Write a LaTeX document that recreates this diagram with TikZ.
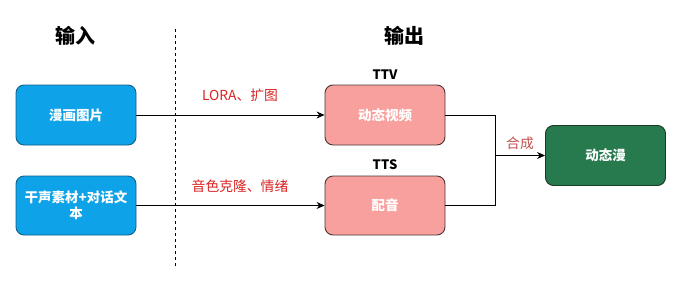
\documentclass[tikz,border=0pt]{standalone}
\usepackage{fontspec}
\setmainfont{Noto Sans CJK SC}
\usetikzlibrary{arrows.meta}
\definecolor{bluefill}{HTML}{0EA2E8}
\definecolor{bluedraw}{HTML}{10618A}
\definecolor{pinkfill}{HTML}{F8A09D}
\definecolor{pinkdraw}{HTML}{4A3534}
\definecolor{greenfill}{HTML}{267A4D}
\definecolor{greendraw}{HTML}{1A3A28}
\definecolor{lblred}{HTML}{D92323}
\definecolor{mergered}{HTML}{C0504D}
\tikzset{
  box/.style={rounded corners=8pt, minimum width=120pt, minimum height=60pt, line width=0.9pt,
    font=\fontsize{13.5}{16.5}\selectfont\bfseries, text=white, align=center, inner sep=2pt},
  bluebox/.style={box, fill=bluefill, draw=bluedraw},
  pinkbox/.style={box, fill=pinkfill, draw=pinkdraw},
  greenbox/.style={box, fill=greenfill, draw=greendraw},
  title/.style={font=\fontsize{20}{23}\selectfont\bfseries},
  tag/.style={font=\fontsize{13}{15}\selectfont\bfseries},
  lbl/.style={font=\fontsize{13.8}{16}\selectfont, text=lblred},
  conn/.style={line width=0.9pt, -{Stealth[length=8pt,width=7pt]}},
  plain/.style={line width=0.9pt}
}
\begin{document}
\begin{tikzpicture}[x=1pt,y=-1pt]
\useasboundingbox (0,0) rectangle (681,284);
\node[title] (tin) at (75,36) {输入};
\node[title] (tout) at (404,36) {输出};
\coordinate (dtop) at (175.7,29);
\coordinate (dbot) at (175.7,267);
\draw[dashed, line width=0.7pt, dash pattern=on 3pt off 3pt] (dtop) -- (dbot);
\node[bluebox] (img) at (76,115) {漫画图片};
\node[bluebox, minimum height=59pt] (voice) at (76,205.5) {干声素材+对话文\\本};
\node[pinkbox] (vid) at (385,115) {动态视频};
\node[pinkbox, minimum height=59pt] (dub) at (385,205.5) {配音};
\node[greenbox] (anim) at (605.5,155.5) {动态漫};
\node[tag] (ttv) at (385,75) {TTV};
\node[tag] (tts) at (385,165) {TTS};
\node[lbl] (l1) at (240,95) {LORA、扩图};
\node[lbl] (l2) at (240,186) {音色克隆、情绪};
\node[lbl, text=mergered] (l3) at (520,143) {合成};
\coordinate (j) at (495.7,155.5);
\draw[conn] (img.east) -- (vid.west);
\draw[conn] (voice.east) -- (dub.west);
\draw[plain] (vid.east) -| (j);
\draw[plain] (dub.east) -| (j);
\draw[conn] (j) -- (anim.west);
\end{tikzpicture}
\end{document}
